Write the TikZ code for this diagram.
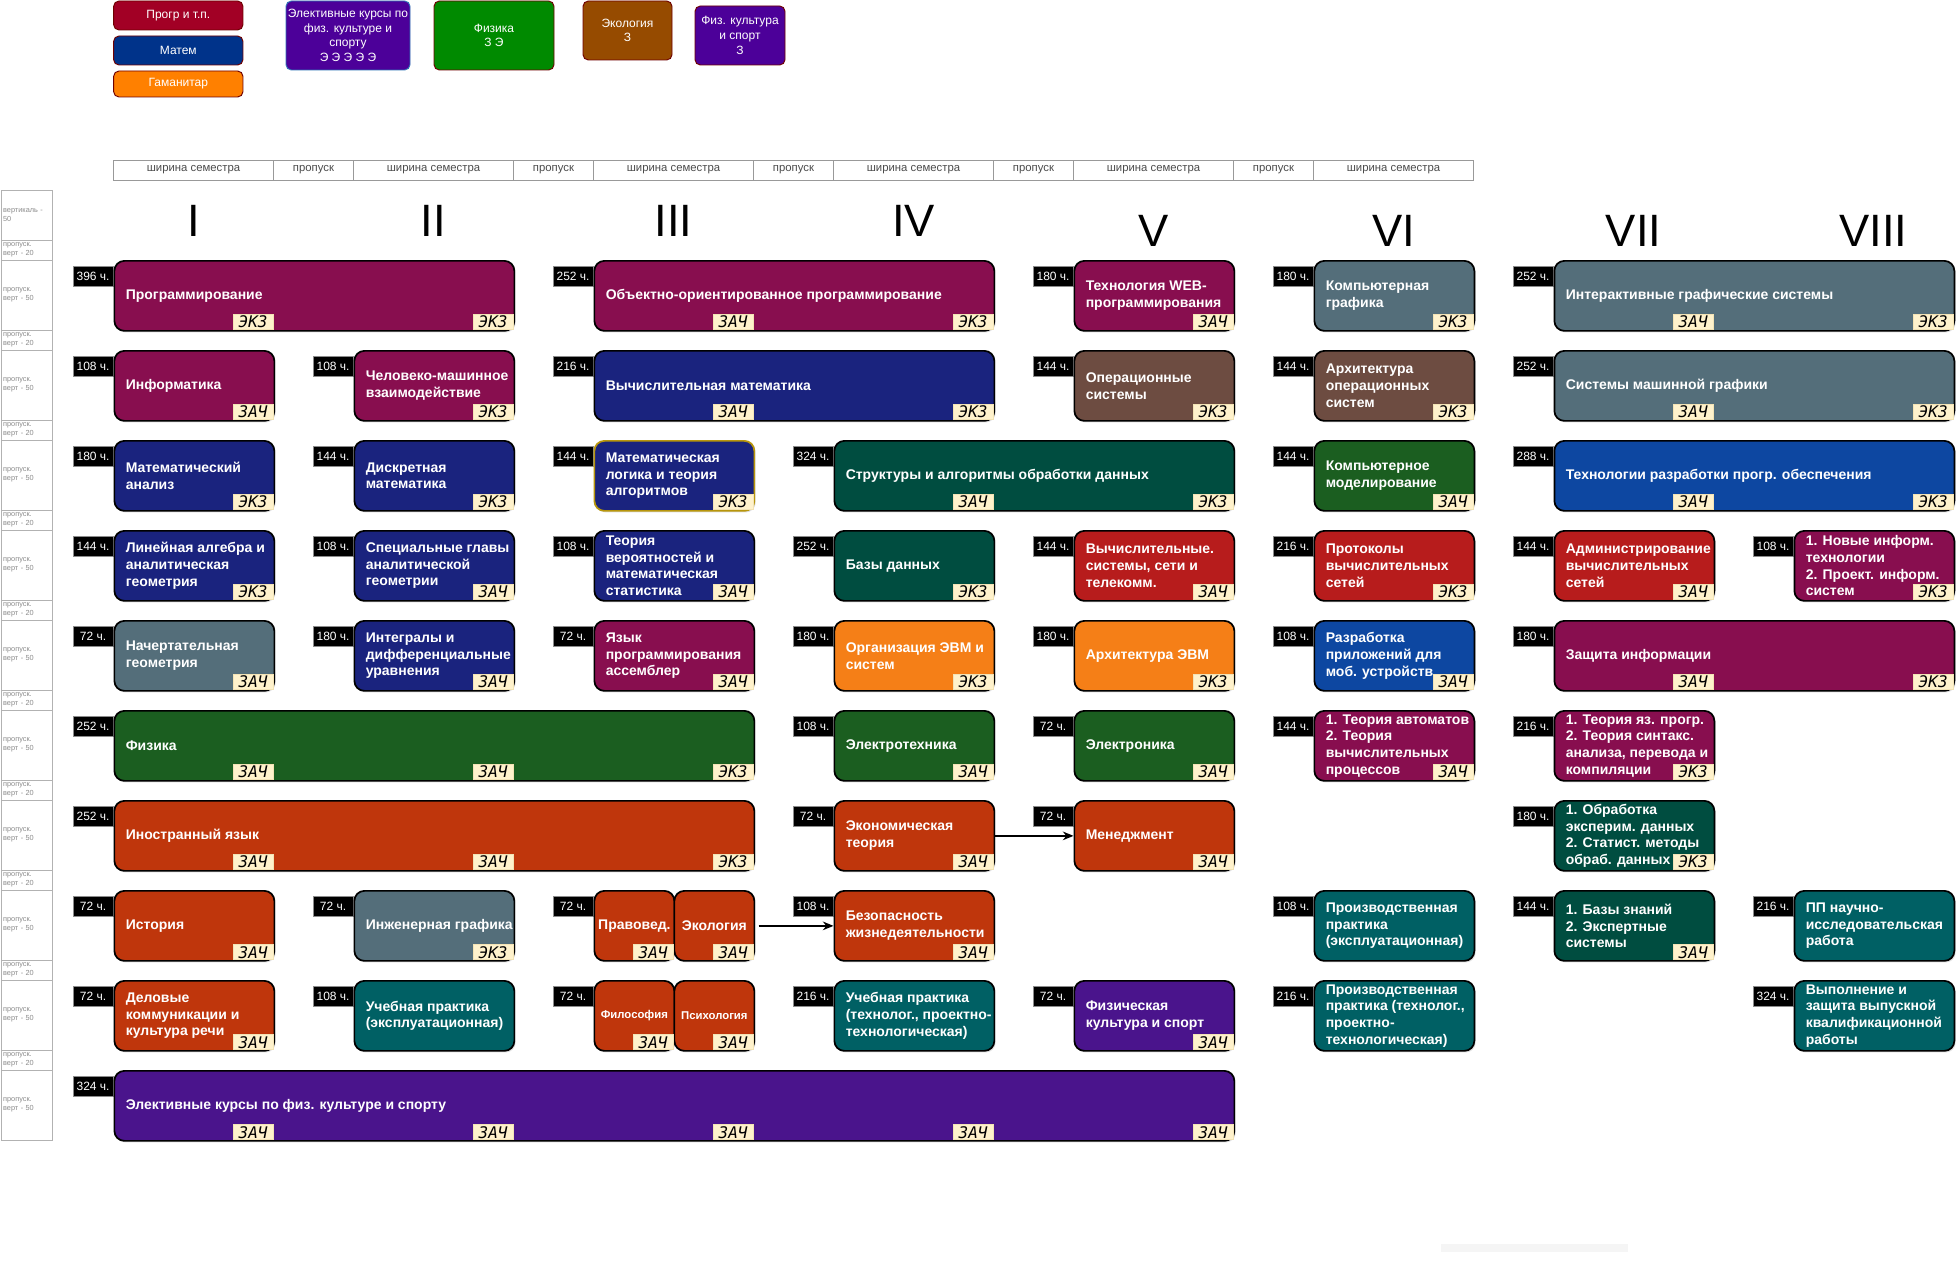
\documentclass[tikz,border=0pt]{standalone}
\usepackage{fontspec}
\setmainfont{Liberation Sans}
\newfontfamily\badgefont{DejaVu Sans Mono}
\usetikzlibrary{arrows.meta,shadows}

% discipline groups
\definecolor{cProg}{HTML}{880E4F}
\definecolor{cMath}{HTML}{1A237E}
\definecolor{cSlate}{HTML}{546E7A}
\definecolor{cBrown}{HTML}{6D4C41}
\definecolor{cDkGreen}{HTML}{004D40}
\definecolor{cGreen}{HTML}{1B5E20}
\definecolor{cBlue}{HTML}{0D47A1}
\definecolor{cRed}{HTML}{B71C1C}
\definecolor{cOrange}{HTML}{F57F17}
\definecolor{cRust}{HTML}{BF360C}
\definecolor{cTeal}{HTML}{006064}
\definecolor{cPurple}{HTML}{4A148C}
\definecolor{cBadge}{HTML}{FFF2CC}
\definecolor{cBadgeFrame}{HTML}{F3E3B5}
\definecolor{cGold}{HTML}{B8960C}
% legend
\definecolor{lProg}{HTML}{A20025}
\definecolor{lMath}{HTML}{00338A}
\definecolor{lHum}{HTML}{FF8000}
\definecolor{lElect}{HTML}{4C0099}
\definecolor{lPhys}{HTML}{008A00}
\definecolor{lEco}{HTML}{964B00}
\definecolor{lFrame}{HTML}{6F0000}
\definecolor{lElectFrame}{HTML}{2E75B6}

\tikzset{
  course/.style={draw=black, line width=1.3pt, rounded corners=7.5pt,
    inner sep=0pt, minimum height=52.5pt,
    drop shadow={shadow xshift=1pt, shadow yshift=-1.2pt, opacity=0.25}},
  title/.style={text=white, align=left, inner sep=0pt,
    font=\bfseries\fontsize{10.5}{12.5}\selectfont},
  hourtag/.style={fill=black, draw=black!45, line width=0.6pt, text=white,
    minimum width=30pt, minimum height=15pt, inner sep=0pt,
    font=\fontsize{9}{10}\selectfont},
  badge/.style={fill=cBadge, draw=cBadgeFrame, line width=0.5pt,
    minimum width=30pt, minimum height=11.25pt, inner sep=0pt, text=black,
    font=\badgefont\itshape\fontsize{12}{12}\selectfont},
  legendbox/.style={draw=lFrame, line width=0.7pt, rounded corners=4pt,
    text=white, align=center, inner sep=0pt, font=\fontsize{9}{11}\selectfont},
  hdr/.style={draw=black!40, line width=0.5pt, minimum height=15pt, inner sep=0pt,
    text=black!70, font=\fontsize{8.5}{10}\selectfont},
  roman/.style={inner sep=0pt, font=\fontsize{34}{40}\selectfont},
  side/.style={draw=black!30, line width=0.5pt, minimum width=38.25pt,
    text width=35pt, inner xsep=1.6pt, inner ysep=0pt, align=left,
    text=black!45, font=\fontsize{5.5}{6.6}\selectfont},
  conn/.style={line width=1.1pt, -{Stealth[length=8pt,width=6.5pt]}},
}

% \Course[extra box options]{name}{column}{row}{semesters}{colour}{hours}{title}
\newcommand\Course[8][]{%
  \pgfmathsetlengthmacro\crsW{(240*#5-80)*0.75pt}%
  \node[hourtag, anchor=north east] (#2-h) at ({113.5+240*#3},{266+90*#4}) {#7 ч.};
  \node[course, fill=#6, minimum width=\crsW, anchor=north west, #1] (#2)
    at ({113.5+240*#3},{260+90*#4}) {};
  \node[title, anchor=west] (#2-t) at ([xshift=9pt]#2.west) {#8};
}
% \Badge{course}{column}{row}{mark}
\newcommand\Badge[4]{%
  \node[badge, anchor=south east] (#1-b#2) at ({273.5+240*#2},{330+90*#3}) {#4};
}

\begin{document}
\begin{tikzpicture}[x=0.75pt,y=-0.75pt]
\useasboundingbox (0,0) rectangle (1956,1281);
\fill[white] (0,0) rectangle (1956,1281);

% ---- legend ----
\node[legendbox, fill=lProg, minimum width=97pt, minimum height=21.75pt] (lg-prog) at (178.3,15.5) {Прогр и т.п.};
\node[legendbox, fill=lMath, minimum width=97pt, minimum height=21.75pt] (lg-math) at (178.3,50.5) {Матем};
\node[legendbox, fill=lHum, minimum width=97pt, minimum height=19.5pt] (lg-hum) at (178.3,84) {Гаманитар};
\node[legendbox, draw=lElectFrame, fill=lElect, minimum width=93pt, minimum height=51.75pt] (lg-elect) at (348,35.5)
  {Элективные курсы по\\физ. культуре и\\спорту\\Э Э Э Э Э};
\node[legendbox, fill=lPhys, minimum width=90pt, minimum height=51.75pt] (lg-phys) at (494,35.5) {Физика\\З Э};
\node[legendbox, fill=lEco, minimum width=66.75pt, minimum height=44.25pt] (lg-eco) at (627.5,30.5) {Экология\\З};
\node[legendbox, fill=lElect, minimum width=67.5pt, minimum height=44.25pt] (lg-pe) at (740,35.5) {Физ. культура\\и спорт\\З};

% ---- semester grid header ----
\foreach \k in {0,...,5}
  \node[hdr, minimum width=120pt] (hs\k) at ({193.5+240*\k},170) {ширина семестра};
\foreach \k in {0,...,4}
  \node[hdr, minimum width=60pt] (hg\k) at ({313.5+240*\k},170) {пропуск};
\foreach \k/\nm/\yy in {0/I/221, 1/II/221, 2/III/221, 3/IV/221, 4/V/231, 5/VI/231, 6/VII/231, 7/VIII/231}
  \node[roman] (sem\k) at ({193.5+240*\k},\yy) {\nm};

% ---- row ruler ----
\node[side, minimum height=37.5pt] (sb-top) at (26.5,215) {вертикаль -\\50};
\foreach \r in {0,...,9} {
  \node[side, minimum height=15pt] (sb-g\r) at (26.5,{250+90*\r}) {пропуск.\\верт - 20};
  \node[side, minimum height=52.5pt] (sb-r\r) at (26.5,{295+90*\r}) {пропуск.\\верт - 50};
}

% ---- row 0 ----
\Course{prog}{0}{0}{2}{cProg}{396}{Программирование}
\Badge{prog}{0}{0}{ЭКЗ}\Badge{prog}{1}{0}{ЭКЗ}
\Course{oop}{2}{0}{2}{cProg}{252}{Объектно-ориентированное программирование}
\Badge{oop}{2}{0}{ЗАЧ}\Badge{oop}{3}{0}{ЭКЗ}
\Course{web}{4}{0}{1}{cProg}{180}{Технология WEB-\\программирования}
\Badge{web}{4}{0}{ЗАЧ}
\Course{cg}{5}{0}{1}{cSlate}{180}{Компьютерная\\графика}
\Badge{cg}{5}{0}{ЭКЗ}
\Course{igs}{6}{0}{2}{cSlate}{252}{Интерактивные графические системы}
\Badge{igs}{6}{0}{ЗАЧ}\Badge{igs}{7}{0}{ЭКЗ}

% ---- row 1 ----
\Course{inf}{0}{1}{1}{cProg}{108}{Информатика}
\Badge{inf}{0}{1}{ЗАЧ}
\Course{hci}{1}{1}{1}{cProg}{108}{Человеко-машинное\\взаимодействие}
\Badge{hci}{1}{1}{ЭКЗ}
\Course{cm}{2}{1}{2}{cMath}{216}{Вычислительная математика}
\Badge{cm}{2}{1}{ЗАЧ}\Badge{cm}{3}{1}{ЭКЗ}
\Course{os}{4}{1}{1}{cBrown}{144}{Операционные\\системы}
\Badge{os}{4}{1}{ЭКЗ}
\Course{osa}{5}{1}{1}{cBrown}{144}{Архитектура\\операционных\\систем}
\Badge{osa}{5}{1}{ЭКЗ}
\Course{smg}{6}{1}{2}{cSlate}{252}{Системы машинной графики}
\Badge{smg}{6}{1}{ЗАЧ}\Badge{smg}{7}{1}{ЭКЗ}

% ---- row 2 ----
\Course{ma}{0}{2}{1}{cMath}{180}{Математический\\анализ}
\Badge{ma}{0}{2}{ЭКЗ}
\Course{dm}{1}{2}{1}{cMath}{144}{Дискретная\\математика}
\Badge{dm}{1}{2}{ЭКЗ}
\Course[draw=cGold]{mlta}{2}{2}{1}{cMath}{144}{Математическая\\логика и теория\\алгоритмов}
\Badge{mlta}{2}{2}{ЭКЗ}
\Course{asd}{3}{2}{2}{cDkGreen}{324}{Структуры и алгоритмы обработки данных}
\Badge{asd}{3}{2}{ЗАЧ}\Badge{asd}{4}{2}{ЭКЗ}
\Course{cmod}{5}{2}{1}{cGreen}{144}{Компьютерное\\моделирование}
\Badge{cmod}{5}{2}{ЗАЧ}
\Course{tpo}{6}{2}{2}{cBlue}{288}{Технологии разработки прогр. обеспечения}
\Badge{tpo}{6}{2}{ЗАЧ}\Badge{tpo}{7}{2}{ЭКЗ}

% ---- row 3 ----
\Course{la}{0}{3}{1}{cMath}{144}{Линейная алгебра и\\аналитическая\\геометрия}
\Badge{la}{0}{3}{ЭКЗ}
\Course{sga}{1}{3}{1}{cMath}{108}{Специальные главы\\аналитической\\геометрии}
\Badge{sga}{1}{3}{ЗАЧ}
\Course{tv}{2}{3}{1}{cMath}{108}{Теория\\вероятностей и\\математическая\\статистика}
\Badge{tv}{2}{3}{ЗАЧ}
\Course{db}{3}{3}{1}{cDkGreen}{252}{Базы данных}
\Badge{db}{3}{3}{ЭКЗ}
\Course{vss}{4}{3}{1}{cRed}{144}{Вычислительные.\\системы, сети и\\телекомм.}
\Badge{vss}{4}{3}{ЗАЧ}
\Course{pvs}{5}{3}{1}{cRed}{216}{Протоколы\\вычислительных\\сетей}
\Badge{pvs}{5}{3}{ЭКЗ}
\Course{avs}{6}{3}{1}{cRed}{144}{Администрирование\\вычислительных\\сетей}
\Badge{avs}{6}{3}{ЗАЧ}
\Course{nit}{7}{3}{1}{cProg}{108}{1. Новые информ.\\технологии\\2. Проект. информ.\\систем}
\Badge{nit}{7}{3}{ЭКЗ}

% ---- row 4 ----
\Course{ng}{0}{4}{1}{cSlate}{72}{Начертательная\\геометрия}
\Badge{ng}{0}{4}{ЗАЧ}
\Course{idu}{1}{4}{1}{cMath}{180}{Интегралы и\\дифференциальные\\уравнения}
\Badge{idu}{1}{4}{ЗАЧ}
\Course{asm}{2}{4}{1}{cProg}{72}{Язык\\программирования\\ассемблер}
\Badge{asm}{2}{4}{ЗАЧ}
\Course{oevm}{3}{4}{1}{cOrange}{180}{Организация ЭВМ и\\систем}
\Badge{oevm}{3}{4}{ЭКЗ}
\Course{aevm}{4}{4}{1}{cOrange}{180}{Архитектура ЭВМ}
\Badge{aevm}{4}{4}{ЭКЗ}
\Course{mob}{5}{4}{1}{cBlue}{108}{Разработка\\приложений для\\моб. устройств}
\Badge{mob}{5}{4}{ЗАЧ}
\Course{zi}{6}{4}{2}{cProg}{180}{Защита информации}
\Badge{zi}{6}{4}{ЗАЧ}\Badge{zi}{7}{4}{ЭКЗ}

% ---- row 5 ----
\Course{phys}{0}{5}{3}{cGreen}{252}{Физика}
\Badge{phys}{0}{5}{ЗАЧ}\Badge{phys}{1}{5}{ЗАЧ}\Badge{phys}{2}{5}{ЭКЗ}
\Course{et}{3}{5}{1}{cGreen}{108}{Электротехника}
\Badge{et}{3}{5}{ЗАЧ}
\Course{el}{4}{5}{1}{cGreen}{72}{Электроника}
\Badge{el}{4}{5}{ЗАЧ}
\Course{ta}{5}{5}{1}{cProg}{144}{1. Теория автоматов\\2. Теория\\вычислительных\\процессов}
\Badge{ta}{5}{5}{ЗАЧ}
\Course{tyap}{6}{5}{1}{cProg}{216}{1. Теория яз. прогр.\\2. Теория синтакс.\\анализа, перевода и\\компиляции}
\Badge{tyap}{6}{5}{ЭКЗ}

% ---- row 6 ----
\Course{fl}{0}{6}{3}{cRust}{252}{Иностранный язык}
\Badge{fl}{0}{6}{ЗАЧ}\Badge{fl}{1}{6}{ЗАЧ}\Badge{fl}{2}{6}{ЭКЗ}
\Course{econ}{3}{6}{1}{cRust}{72}{Экономическая\\теория}
\Badge{econ}{3}{6}{ЗАЧ}
\Course{mgmt}{4}{6}{1}{cRust}{72}{Менеджмент}
\Badge{mgmt}{4}{6}{ЗАЧ}
\Course{oed}{6}{6}{1}{cDkGreen}{180}{1. Обработка\\эксперим. данных\\2. Статист. методы\\обраб. данных}
\Badge{oed}{6}{6}{ЭКЗ}

% ---- row 7 ----
\Course{hist}{0}{7}{1}{cRust}{72}{История}
\Badge{hist}{0}{7}{ЗАЧ}
\Course{ig}{1}{7}{1}{cSlate}{72}{Инженерная графика}
\Badge{ig}{1}{7}{ЭКЗ}
\node[hourtag, anchor=north east] (prav-h) at (593.5,896) {72 ч.};
\node[course, fill=cRust, minimum width=60pt, anchor=north west] (prav) at (593.5,890) {};
\node[title] (prav-t) at (prav.center) {Правовед.};
\node[course, fill=cRust, minimum width=60pt, anchor=north west] (ecol) at (673.5,890) {};
\node[title] (ecol-t) at (ecol.center) {Экология};
\node[badge, anchor=south east] (prav-b) at (673.5,960) {ЗАЧ};
\node[badge, anchor=south east] (ecol-b) at (753.5,960) {ЗАЧ};
\Course{bjd}{3}{7}{1}{cRust}{108}{Безопасность\\жизнедеятельности}
\Badge{bjd}{3}{7}{ЗАЧ}
\Course{ppe}{5}{7}{1}{cTeal}{108}{Производственная\\практика\\(эксплуатационная)}
\Course{bz}{6}{7}{1}{cDkGreen}{144}{1. Базы знаний\\2. Экспертные\\системы}
\Badge{bz}{6}{7}{ЗАЧ}
\Course{nir}{7}{7}{1}{cTeal}{216}{ПП научно-\\исследовательская\\работа}

% ---- row 8 ----
\Course{dk}{0}{8}{1}{cRust}{72}{Деловые\\коммуникации и\\культура речи}
\Badge{dk}{0}{8}{ЗАЧ}
\Course{upe}{1}{8}{1}{cTeal}{108}{Учебная практика\\(эксплуатационная)}
\node[hourtag, anchor=north east] (phil-h) at (593.5,986) {72 ч.};
\node[course, fill=cRust, minimum width=60pt, anchor=north west] (phil) at (593.5,980) {};
\node[title, font=\bfseries\fontsize{8.5}{10}\selectfont] (phil-t) at (phil.center) {Философия};
\node[course, fill=cRust, minimum width=60pt, anchor=north west] (psy) at (673.5,980) {};
\node[title, font=\bfseries\fontsize{8.5}{10}\selectfont] (psy-t) at (psy.center) {Психология};
\node[badge, anchor=south east] (phil-b) at (673.5,1050) {ЗАЧ};
\node[badge, anchor=south east] (psy-b) at (753.5,1050) {ЗАЧ};
\Course{upt}{3}{8}{1}{cTeal}{216}{Учебная практика\\(технолог., проектно-\\технологическая)}
\Course{fk}{4}{8}{1}{cPurple}{72}{Физическая\\культура и спорт}
\Badge{fk}{4}{8}{ЗАЧ}
\Course{ppt}{5}{8}{1}{cTeal}{216}{Производственная\\практика (технолог.,\\проектно-\\технологическая)}
\Course{vkr}{7}{8}{1}{cTeal}{324}{Выполнение и\\защита выпускной\\квалификационной\\работы}

% ---- row 9 ----
\Course{elect}{0}{9}{5}{cPurple}{324}{Элективные курсы по физ. культуре и спорту}
\foreach \c in {0,...,4} {\Badge{elect}{\c}{9}{ЗАЧ}}

% ---- prerequisites ----
\draw[conn] (econ.east) -- (mgmt.west);
\draw[conn] ([xshift=2.5pt]ecol.east) -- (bjd.west);

% faint strip near the bottom edge
\fill[black!4] (1441,1244) rectangle (1628,1252);
\end{tikzpicture}
\end{document}
